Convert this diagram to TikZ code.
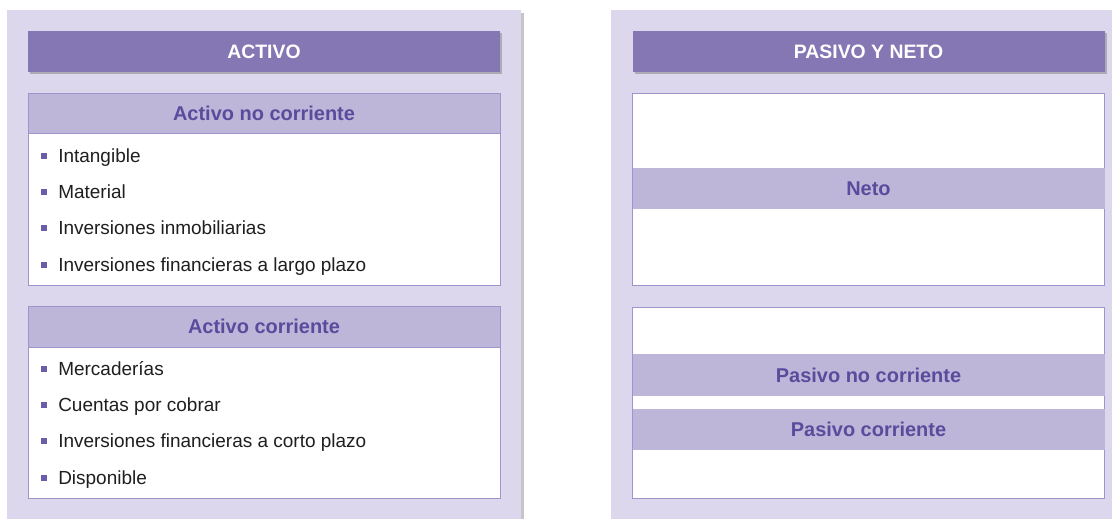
\documentclass[tikz,border=0pt]{standalone}
\usepackage{fontspec}
\setmainfont{Liberation Sans}
\usetikzlibrary{shadows}
\definecolor{panelbg}{HTML}{DCD7EC}
\definecolor{hdrbg}{HTML}{8577B4}
\definecolor{bandbg}{HTML}{BEB6D9}
\definecolor{bandtxt}{HTML}{5A4B9C}
\definecolor{boxline}{HTML}{9D95CC}
\definecolor{bulcol}{HTML}{6B5DAA}
\pgfdeclarelayer{bg}
\pgfsetlayers{bg,main}
\tikzset{
    every node/.style={rectangle, inner sep=0mm},
    panel/.style={fill=panelbg, anchor=north west, minimum height=13cm,
        drop shadow={shadow xshift=0.06cm, shadow yshift=-0.06cm, opacity=0.45}},
    hdr/.style={fill=hdrbg, text=white, minimum width=11.8cm, minimum height=1.025cm,
        font=\bfseries\fontsize{13.8}{16}\selectfont,
        drop shadow={shadow xshift=0.05cm, shadow yshift=-0.05cm, opacity=0.5}},
    box/.style={fill=white, draw=boxline, line width=0.7pt, minimum width=11.8cm},
    band/.style={fill=bandbg, minimum width=11.8cm, minimum height=1.025cm, text=bandtxt,
        font=\bfseries\fontsize{14.2}{17}\selectfont},
    item/.style={anchor=west, text=black!88, font=\fontsize{13.5}{16}\selectfont,
        text height=0.34cm, text depth=0cm, label={[bul]left:{}}},
    bul/.style={fill=bulcol, minimum size=0.15cm, label distance=0.275cm}
}

\begin{document}
\begin{tikzpicture}
    \useasboundingbox (0cm, 0cm) rectangle (27.8cm, 12.95cm);

    \begin{pgfonlayer}{bg}
        \node (lp) at (0.175cm, 12.7cm) [panel, minimum width=12.85cm] {};
        \node (rp) at (15.275cm, 12.7cm) [panel, minimum width=13.2cm] {};
    \end{pgfonlayer}

    % activo
    \node (act) at (6.6cm, 11.6625cm) [hdr] {ACTIVO};

    \node (anc) at (6.6cm, 8.225cm) [box, minimum height=4.8cm] {};
    \node (anch) at (6.6cm, 10.125cm) [band, draw=boxline, line width=0.7pt, minimum height=1.0cm] {Activo no corriente};
    \node (anc1) at (1.45cm, 9.06cm) [item] {Intangible};
    \node (anc2) at (1.45cm, 8.15cm) [item] {Material};
    \node (anc3) at (1.45cm, 7.25cm) [item] {Inversiones inmobiliarias};
    \node (anc4) at (1.45cm, 6.33cm) [item] {Inversiones financieras a largo plazo};

    \node (ac) at (6.6cm, 2.9cm) [box, minimum height=4.8cm] {};
    \node (ach) at (6.6cm, 4.7875cm) [band, draw=boxline, line width=0.7pt] {Activo corriente};
    \node (ac1) at (1.45cm, 3.73cm) [item] {Mercaderías};
    \node (ac2) at (1.45cm, 2.83cm) [item] {Cuentas por cobrar};
    \node (ac3) at (1.45cm, 1.93cm) [item] {Inversiones financieras a corto plazo};
    \node (ac4) at (1.45cm, 1.01cm) [item] {Disponible};

    % pasivo y neto
    \node (pyn) at (21.7125cm, 11.6625cm) [hdr] {PASIVO Y NETO};

    \node (nb) at (21.7125cm, 8.225cm) [box, minimum height=4.8cm] {};
    \node (neto) at (21.7125cm, 8.2375cm) [band] {Neto};

    \node (pb) at (21.7125cm, 2.8875cm) [box, minimum height=4.775cm] {};
    \node (pnc) at (21.7125cm, 3.575cm) [band, minimum height=1.05cm] {Pasivo no corriente};
    \node (pc) at (21.7125cm, 2.2125cm) [band] {Pasivo corriente};
\end{tikzpicture}
\end{document}
